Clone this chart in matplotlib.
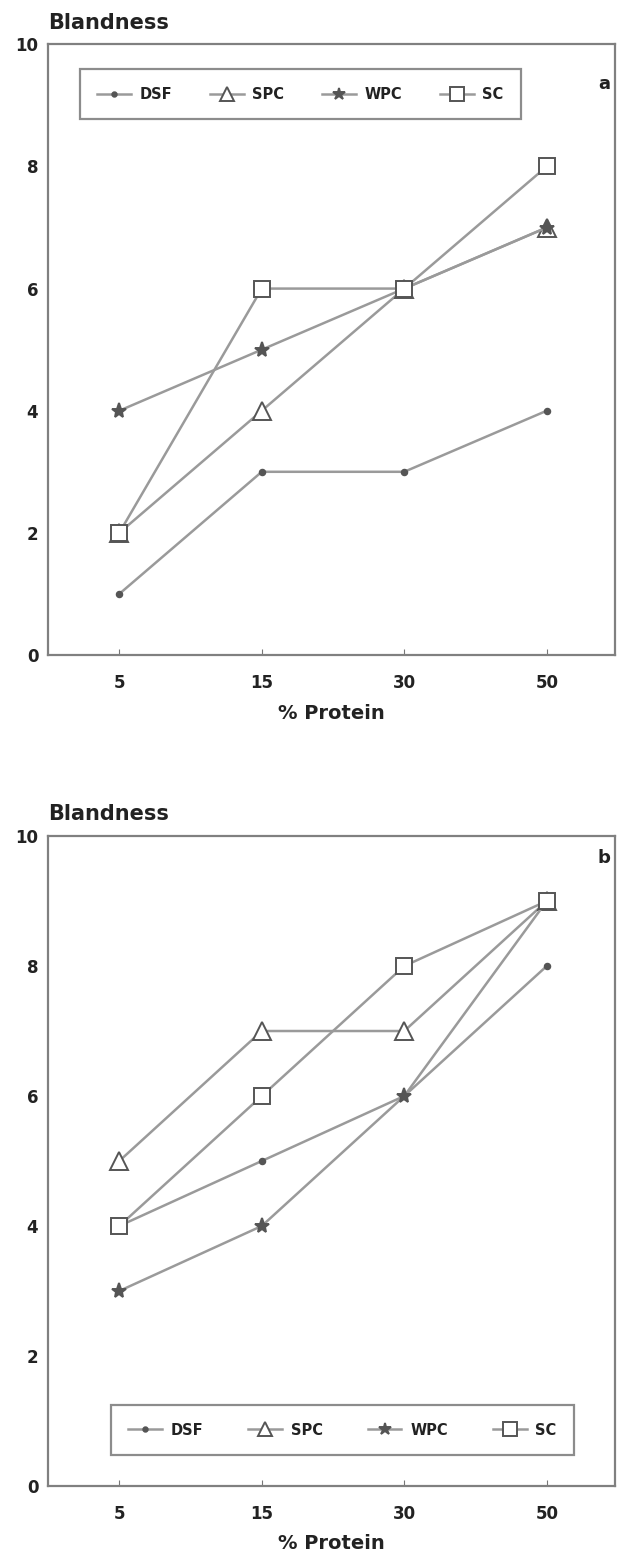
import matplotlib
matplotlib.use("Agg")
import matplotlib.pyplot as plt

# % protein levels (categorical x axis)
protein_levels = ["5", "15", "30", "50"]

# blandness scores, panel a
a_dsf = [1, 3, 3, 4]
a_spc = [2, 4, 6, 7]
a_wpc = [4, 5, 6, 7]
a_sc = [2, 6, 6, 8]

# blandness scores, panel b
b_dsf = [4, 5, 6, 8]
b_spc = [5, 7, 7, 9]
b_wpc = [3, 4, 6, 9]
b_sc = [4, 6, 8, 9]

series_names = ["DSF", "SPC", "WPC", "SC"]
LINE = "#9a9a9a"
MARK = "#555555"
TEXT = "#222222"

styles = {
    "DSF": dict(marker="o", markersize=4, markerfacecolor=MARK, markeredgecolor=MARK),
    "SPC": dict(marker="^", markersize=13, markerfacecolor="white", markeredgecolor=MARK),
    "WPC": dict(marker="*", markersize=11, markerfacecolor=MARK, markeredgecolor=MARK),
    "SC": dict(marker="s", markersize=12, markerfacecolor="white", markeredgecolor=MARK),
}

plt.rcParams["font.family"] = ["DejaVu Sans"]

fig = plt.figure(figsize=(6.43, 15.54), dpi=100)


def draw_panel(rect, data, letter, letter_y, legend_anchor, colspace):
    ax = fig.add_axes(rect)
    x = range(len(protein_levels))
    handles = []
    for name, vals in zip(series_names, data):
        h, = ax.plot(x, vals, color=LINE, linewidth=1.8, markeredgewidth=1.4,
                     label=name, **styles[name])
        handles.append(h)
    ax.set_xlim(-0.5, 3.48)
    ax.set_ylim(0, 10)
    ax.set_xticks(list(x))
    ax.set_xticklabels(protein_levels)
    ax.set_yticks([0, 2, 4, 6, 8, 10])
    ax.tick_params(direction="in", length=4, color="#777777", labelsize=12,
                   labelcolor=TEXT, pad=14)
    ax.tick_params(axis="y", length=0, pad=7)
    for lbl in ax.get_xticklabels() + ax.get_yticklabels():
        lbl.set_fontweight("bold")
    for sp in ax.spines.values():
        sp.set_color("#808080")
        sp.set_linewidth(1.6)
    ax.set_xlabel("% Protein", fontsize=14, fontweight="bold", color=TEXT, labelpad=8)
    ax.text(0.0, 1.018, "Blandness", transform=ax.transAxes, fontsize=15,
            fontweight="bold", color=TEXT, ha="left", va="bottom")
    ax.text(0.992, letter_y, letter, transform=ax.transAxes, fontsize=13,
            fontweight="bold", color=TEXT, ha="right", va="top")
    leg = ax.legend(handles=handles, ncol=4, loc="center", bbox_to_anchor=legend_anchor,
                    frameon=True, fancybox=False, edgecolor="#707070",
                    prop={"weight": "bold", "size": 10.5}, handlelength=2.3,
                    columnspacing=colspace, borderpad=1.2, handletextpad=0.6,
                    markerscale=0.8)
    leg.get_frame().set_linewidth(1.6)
    for t in leg.get_texts():
        t.set_color(TEXT)
    return ax


draw_panel([0.0747, 0.5785, 0.882, 0.393], [a_dsf, a_spc, a_wpc, a_sc],
           "a", 0.95, (0.445, 0.918), 2.6)
draw_panel([0.0747, 0.0438, 0.882, 0.4182], [b_dsf, b_spc, b_wpc, b_sc],
           "b", 0.98, (0.519, 0.086), 3.1)

fig.savefig("out.png", dpi=100)
